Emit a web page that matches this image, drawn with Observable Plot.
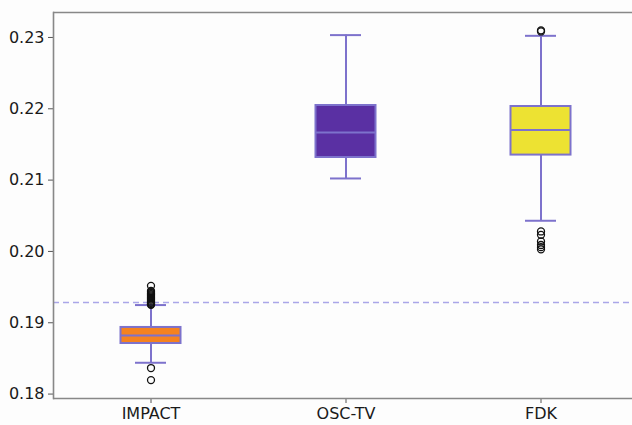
<!DOCTYPE html>
<html>
<head>
<meta charset="utf-8">
<script src="https://cdn.jsdelivr.net/npm/d3@7"></script>
<script src="https://cdn.jsdelivr.net/npm/@observablehq/plot@0.6"></script>
<style>
  html, body { margin: 0; padding: 0; background: #fdfdfd; }
  #chart svg { display: block; background: #fdfdfd; }
</style>
</head>
<body>
<div id="chart"></div>
<script>
const categories = ["IMPACT", "OSC-TV", "FDK"];
const q1 = [0.18709, 0.21317, 0.21351];
const median = [0.18822, 0.21667, 0.21701];
const q3 = [0.18934, 0.22046, 0.22032];
const whiskerLo = [0.18439, 0.21023, 0.20430];
const whiskerHi = [0.19248, 0.23033, 0.23023];
const fills = ["#f5821f", "#5a30a3", "#ede232"];
const outlierCat = [
  "IMPACT","IMPACT","IMPACT","IMPACT","IMPACT","IMPACT","IMPACT","IMPACT","IMPACT","IMPACT","IMPACT","IMPACT","IMPACT","IMPACT","IMPACT","IMPACT","IMPACT","IMPACT",
  "FDK","FDK","FDK","FDK","FDK","FDK","FDK","FDK"
];
const outlierVal = [
  0.19518, 0.19445, 0.1943, 0.19415, 0.1940, 0.19385, 0.1937, 0.19355, 0.1934, 0.19325, 0.1931, 0.19295, 0.1928, 0.19265, 0.1926, 0.19252, 0.18365, 0.18196,
  0.23100, 0.23084, 0.20280, 0.20233, 0.20140, 0.20090, 0.20060, 0.20030
];
const refLine = [0.19284];
const yTicks = [0.18, 0.19, 0.20, 0.21, 0.22, 0.23];
const yDomain = [0.17938, 0.2335];

const boxes = categories.map((c, i) => ({
  cat: c, q1: q1[i], med: median[i], q3: q3[i], lo: whiskerLo[i], hi: whiskerHi[i], fill: fills[i]
}));
const outliers = outlierCat.map((c, i) => ({cat: c, v: outlierVal[i]}));

const edge = "#7d72cc";

const chart = Plot.plot({
  width: 632,
  height: 425,
  marginLeft: 53,
  marginRight: -6,
  marginTop: 12,
  marginBottom: 27,
  style: {fontFamily: "DejaVu Sans", fontSize: "16px", color: "#1a1a1a", background: "#fdfdfd"},
  x: {type: "band", domain: categories, padding: 0, label: null},
  y: {domain: yDomain, label: null},
  marks: [
    Plot.ruleY(refLine, {stroke: "#aaa6e8", strokeWidth: 1.3, strokeDasharray: "6,4"}),
    Plot.ruleX(boxes, {x: "cat", y1: "lo", y2: "hi", stroke: edge, strokeWidth: 2}),
    Plot.tickY(boxes, {x: "cat", y: "lo", stroke: edge, strokeWidth: 2, insetLeft: 82, insetRight: 82}),
    Plot.tickY(boxes, {x: "cat", y: "hi", stroke: edge, strokeWidth: 2, insetLeft: 82, insetRight: 82}),
    Plot.rect(boxes, {x: "cat", y1: "q1", y2: "q3", fill: "fill", stroke: edge, strokeWidth: 2, insetLeft: 67.5, insetRight: 67.5}),
    Plot.tickY(boxes, {x: "cat", y: "med", stroke: edge, strokeWidth: 2, insetLeft: 67.5, insetRight: 67.5}),
    Plot.dot(outliers, {x: "cat", y: "v", r: 3.5, stroke: "#111", strokeWidth: 1.3, fill: "none"}),
    Plot.axisX({tickSize: 5, tickPadding: 4, stroke: "#555", fontSize: 16}),
    Plot.axisY({ticks: yTicks, tickFormat: d3.format(".2f"), tickSize: 5, tickPadding: 4, stroke: "#555", fontSize: 16}),
    Plot.ruleY(yDomain, {stroke: "#888", strokeWidth: 1.6}),
    Plot.frame({anchor: "left", stroke: "#888", strokeWidth: 1.6})
  ]
});
document.getElementById("chart").appendChild(chart);
</script>
</body>
</html>
